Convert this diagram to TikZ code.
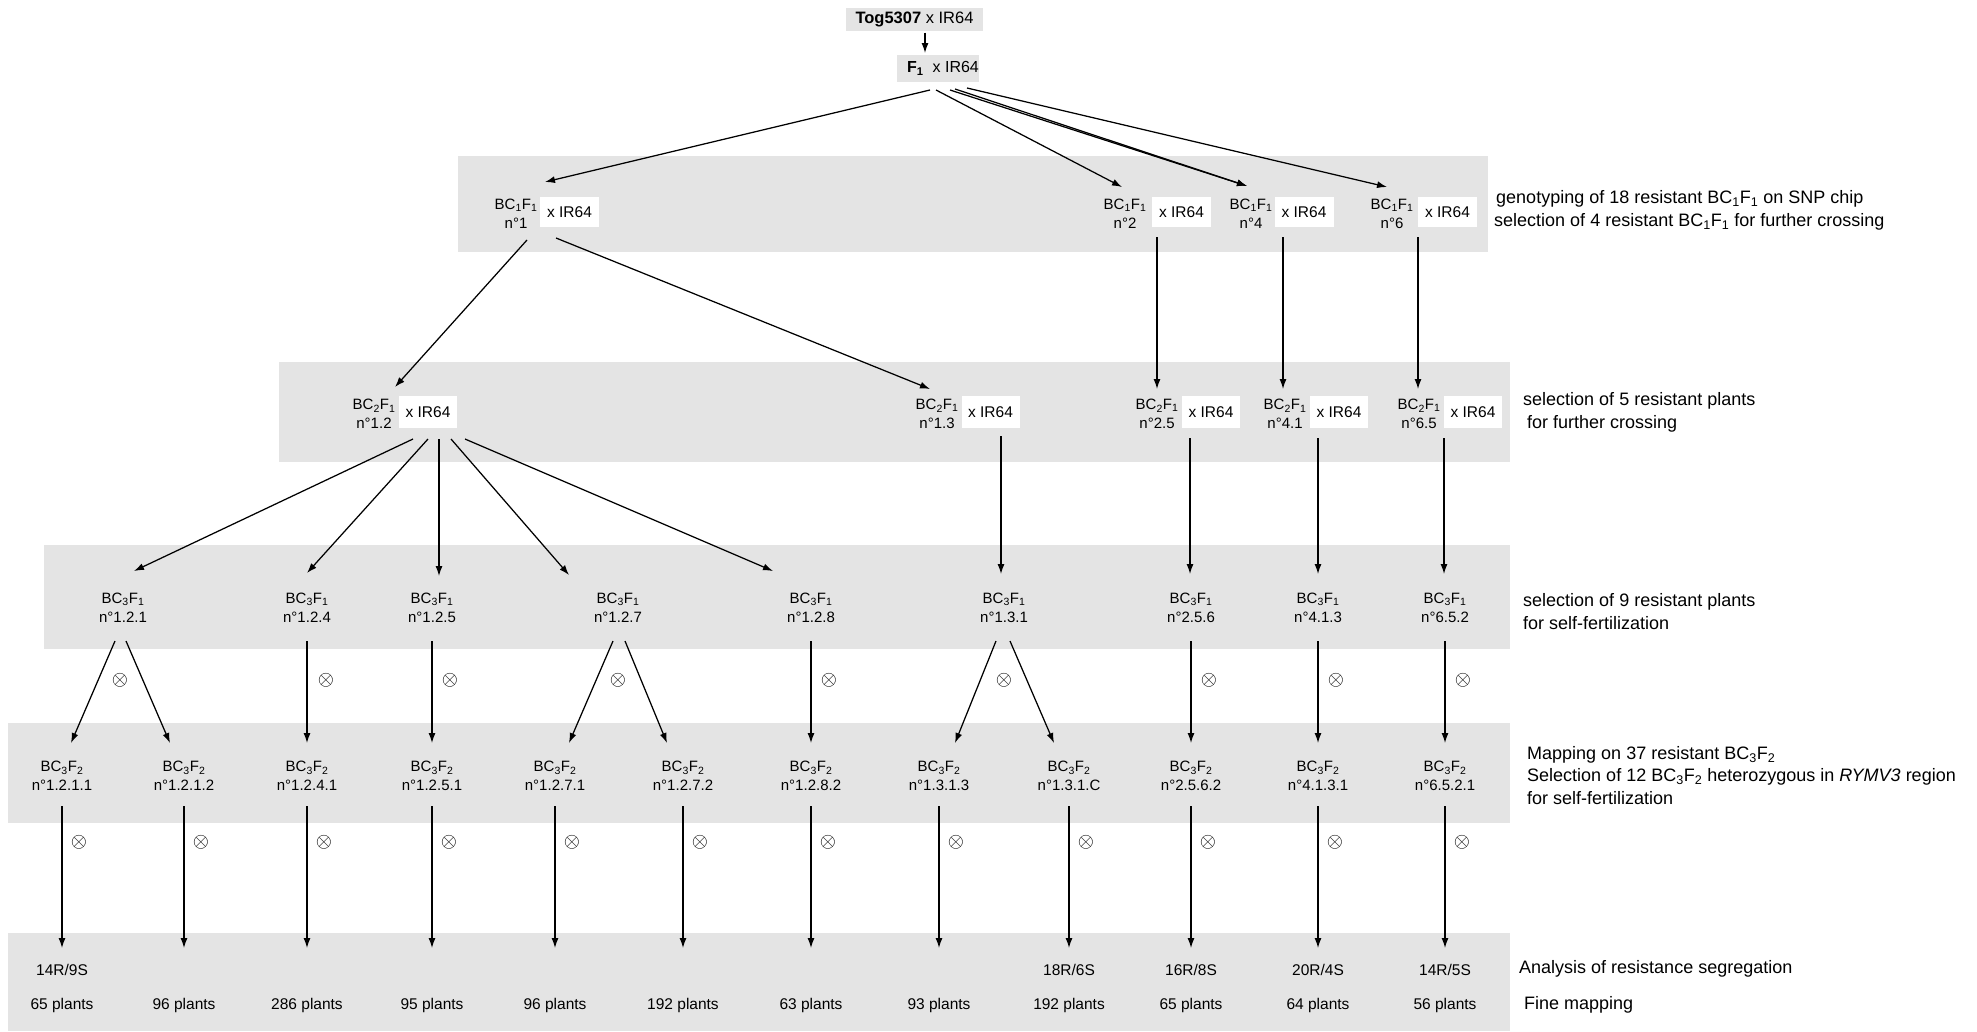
\documentclass[tikz,border=0pt]{standalone}
\usepackage{fontspec}
\setmainfont{Liberation Sans}
\usetikzlibrary{arrows.meta}
\definecolor{bandgray}{RGB}{228,228,228}
\begin{document}
\begin{tikzpicture}[x=1pt,y=-1pt,
  lab/.style={align=center, font=\fontsize{15}{19}\selectfont, inner sep=0pt},
  xbox/.style={fill=white, minimum width=59pt, minimum height=30pt, inner sep=0pt, font=\fontsize{15.5}{17}\selectfont},
  arr/.style={line width=1.25pt, -{Latex[length=10pt,width=7pt]}},
  note/.style={align=left, anchor=west, inner sep=0pt, font=\fontsize{18}{22.5}\selectfont},
  ot/.style={inner sep=0pt, font=\fontsize{21}{21}\selectfont},
  bot/.style={font=\fontsize{15.5}{17}\selectfont, inner sep=0pt}
]
\useasboundingbox (0,0) rectangle (1977,1031);
\fill[white] (0,0) rectangle (1977,1031);
% bands
\fill[bandgray] (458,156) rectangle (1488,252);
\fill[bandgray] (279,362) rectangle (1510,462);
\fill[bandgray] (44,545) rectangle (1510,649);
\fill[bandgray] (8,723) rectangle (1510,823);
\fill[bandgray] (8,933) rectangle (1510,1031);
% top
\node[fill=bandgray, minimum width=137pt, minimum height=23pt, inner sep=0pt, font=\fontsize{16.5}{18}\selectfont] (top) at (914.5,19.5) {\textbf{Tog5307} x IR64};
\node[fill=bandgray, minimum width=80pt, minimum height=27pt, inner sep=0pt, font=\fontsize{16}{18}\selectfont] (f1) at (938,68.5) {\hspace{10pt}\textbf{F\textsubscript{1}}\hspace{9pt}x IR64};
% band 1
\node[lab] (l1) at (516,213.5) {BC\textsubscript{1}F\textsubscript{1}\\n°1};
\node[lab] (l2) at (1125,213.5) {BC\textsubscript{1}F\textsubscript{1}\\n°2};
\node[lab] (l4) at (1251,213.5) {BC\textsubscript{1}F\textsubscript{1}\\n°4};
\node[lab] (l6) at (1392,213.5) {BC\textsubscript{1}F\textsubscript{1}\\n°6};
\node[xbox] (b1) at (569.5,212) {x IR64};
\node[xbox] (b2) at (1181.5,212) {x IR64};
\node[xbox] (b4) at (1304,212) {x IR64};
\node[xbox] (b6) at (1447.5,212) {x IR64};
% band 2
\node[lab] (l12) at (374,414) {BC\textsubscript{2}F\textsubscript{1}\\n°1.2};
\node[lab] (l13) at (937,414) {BC\textsubscript{2}F\textsubscript{1}\\n°1.3};
\node[lab] (l25) at (1157,414) {BC\textsubscript{2}F\textsubscript{1}\\n°2.5};
\node[lab] (l41) at (1285,414) {BC\textsubscript{2}F\textsubscript{1}\\n°4.1};
\node[lab] (l65) at (1419,414) {BC\textsubscript{2}F\textsubscript{1}\\n°6.5};
\node[xbox, minimum width=58pt, minimum height=32pt] (b12) at (428,412) {x IR64};
\node[xbox, minimum width=58pt, minimum height=32pt] (b13) at (990.5,412) {x IR64};
\node[xbox, minimum width=58pt, minimum height=32pt] (b25) at (1211,412) {x IR64};
\node[xbox, minimum width=58pt, minimum height=32pt] (b41) at (1339,412) {x IR64};
\node[xbox, minimum width=58pt, minimum height=32pt] (b65) at (1473,412) {x IR64};
% band 3
\node[lab] (k121) at (123,607.5) {BC\textsubscript{3}F\textsubscript{1}\\n°1.2.1};
\node[lab] (k124) at (307,607.5) {BC\textsubscript{3}F\textsubscript{1}\\n°1.2.4};
\node[lab] (k125) at (432,607.5) {BC\textsubscript{3}F\textsubscript{1}\\n°1.2.5};
\node[lab] (k127) at (618,607.5) {BC\textsubscript{3}F\textsubscript{1}\\n°1.2.7};
\node[lab] (k128) at (811,607.5) {BC\textsubscript{3}F\textsubscript{1}\\n°1.2.8};
\node[lab] (k131) at (1004,607.5) {BC\textsubscript{3}F\textsubscript{1}\\n°1.3.1};
\node[lab] (k256) at (1191,607.5) {BC\textsubscript{3}F\textsubscript{1}\\n°2.5.6};
\node[lab] (k413) at (1318,607.5) {BC\textsubscript{3}F\textsubscript{1}\\n°4.1.3};
\node[lab] (k652) at (1445,607.5) {BC\textsubscript{3}F\textsubscript{1}\\n°6.5.2};
% band 4
\node[lab] (m1) at (62,776) {BC\textsubscript{3}F\textsubscript{2}\\n°1.2.1.1};
\node[lab] (m2) at (184,776) {BC\textsubscript{3}F\textsubscript{2}\\n°1.2.1.2};
\node[lab] (m3) at (307,776) {BC\textsubscript{3}F\textsubscript{2}\\n°1.2.4.1};
\node[lab] (m4) at (432,776) {BC\textsubscript{3}F\textsubscript{2}\\n°1.2.5.1};
\node[lab] (m5) at (555,776) {BC\textsubscript{3}F\textsubscript{2}\\n°1.2.7.1};
\node[lab] (m6) at (683,776) {BC\textsubscript{3}F\textsubscript{2}\\n°1.2.7.2};
\node[lab] (m7) at (811,776) {BC\textsubscript{3}F\textsubscript{2}\\n°1.2.8.2};
\node[lab] (m8) at (939,776) {BC\textsubscript{3}F\textsubscript{2}\\n°1.3.1.3};
\node[lab] (m9) at (1069,776) {BC\textsubscript{3}F\textsubscript{2}\\n°1.3.1.C};
\node[lab] (m10) at (1191,776) {BC\textsubscript{3}F\textsubscript{2}\\n°2.5.6.2};
\node[lab] (m11) at (1318,776) {BC\textsubscript{3}F\textsubscript{2}\\n°4.1.3.1};
\node[lab] (m12) at (1445,776) {BC\textsubscript{3}F\textsubscript{2}\\n°6.5.2.1};
% band 5
\node[bot] (p1) at (62,1005) {65 plants};
\node[bot] (p2) at (184,1005) {96 plants};
\node[bot] (p3) at (307,1005) {286 plants};
\node[bot] (p4) at (432,1005) {95 plants};
\node[bot] (p5) at (555,1005) {96 plants};
\node[bot] (p6) at (683,1005) {192 plants};
\node[bot] (p7) at (811,1005) {63 plants};
\node[bot] (p8) at (939,1005) {93 plants};
\node[bot] (p9) at (1069,1005) {192 plants};
\node[bot] (p10) at (1191,1005) {65 plants};
\node[bot] (p11) at (1318,1005) {64 plants};
\node[bot] (p12) at (1445,1005) {56 plants};
\node[bot] (s1) at (62,970) {14R/9S};
\node[bot] (s9) at (1069,970) {18R/6S};
\node[bot] (s10) at (1191,970) {16R/8S};
\node[bot] (s11) at (1318,970) {20R/4S};
\node[bot] (s12) at (1445,970) {14R/5S};
% arrows top
\draw[arr] ([shift={(10.5,13)}]top.center) -- ([shift={(-13,-15.5)}]f1.center);
\draw[arr] ([shift={(-8,21.5)}]f1.center) -- ([shift={(29,-31.5)}]l1.center);
\draw[arr] ([shift={(-2,21.5)}]f1.center) -- ([shift={(-3,-26.5)}]l2.center);
\draw[arr] ([shift={(12,21.5)}]f1.center) -- ([shift={(-4,-27.5)}]l4.center);
\draw[arr] ([shift={(17,20.5)}]f1.center) -- ([shift={(-4,-27.5)}]l4.center);
\draw[arr] ([shift={(29,19.5)}]f1.center) -- ([shift={(-5,-26.5)}]l6.center);
% band 1 -> 2
\draw[arr] ([shift={(11,26.5)}]l1.center) -- ([shift={(21,-27)}]l12.center);
\draw[arr] ([shift={(-13.5,26)}]b1.center) -- ([shift={(-7,-25)}]l13.center);
\draw[arr] ([shift={(-24.5,25)}]b2.center) -- ([shift={(0,-25)}]l25.center);
\draw[arr] ([shift={(-21,25)}]b4.center) -- ([shift={(-2,-25)}]l41.center);
\draw[arr] ([shift={(-29.5,25)}]b6.center) -- ([shift={(-1,-25)}]l65.center);
% band 2 -> 3
\draw[arr] ([shift={(-15,27)}]b12.center) -- ([shift={(11,-36.5)}]k121.center);
\draw[arr] ([shift={(0,27)}]b12.center) -- ([shift={(0,-34.5)}]k124.center);
\draw[arr] ([shift={(11,27)}]b12.center) -- ([shift={(7,-31.5)}]k125.center);
\draw[arr] ([shift={(23,27)}]b12.center) -- ([shift={(-49,-32.5)}]k127.center);
\draw[arr] ([shift={(37,27)}]b12.center) -- ([shift={(-38,-36.5)}]k128.center);
\draw[arr] ([shift={(10.5,24)}]b13.center) -- ([shift={(-3,-33.5)}]k131.center);
\draw[arr] ([shift={(-21,26)}]b25.center) -- ([shift={(-1,-33.5)}]k256.center);
\draw[arr] ([shift={(-21,26)}]b41.center) -- ([shift={(0,-33.5)}]k413.center);
\draw[arr] ([shift={(-29,26)}]b65.center) -- ([shift={(-1,-33.5)}]k652.center);
% band 3 -> 4
\draw[arr] ([shift={(-8,33.5)}]k121.center) -- ([shift={(9,-33)}]m1.center);
\draw[arr] ([shift={(3,33.5)}]k121.center) -- ([shift={(-14,-33)}]m2.center);
\draw[arr] ([shift={(0,33.5)}]k124.center) -- ([shift={(0,-33)}]m3.center);
\draw[arr] ([shift={(0,33.5)}]k125.center) -- ([shift={(0,-33)}]m4.center);
\draw[arr] ([shift={(-5,33.5)}]k127.center) -- ([shift={(14,-33)}]m5.center);
\draw[arr] ([shift={(7,33.5)}]k127.center) -- ([shift={(-16,-33)}]m6.center);
\draw[arr] ([shift={(0,33.5)}]k128.center) -- ([shift={(0,-33)}]m7.center);
\draw[arr] ([shift={(-8,33.5)}]k131.center) -- ([shift={(16,-33)}]m8.center);
\draw[arr] ([shift={(6,33.5)}]k131.center) -- ([shift={(-15,-33)}]m9.center);
\draw[arr] ([shift={(0,33.5)}]k256.center) -- ([shift={(0,-33)}]m10.center);
\draw[arr] ([shift={(0,33.5)}]k413.center) -- ([shift={(0,-33)}]m11.center);
\draw[arr] ([shift={(0,33.5)}]k652.center) -- ([shift={(0,-33)}]m12.center);
% band 4 -> 5
\foreach \i in {1,...,12} {
  \draw[arr] ([shift={(0,30)}]m\i.center) -- ([shift={(0,-57)}]p\i.center);
}
% selfing symbols
\node[ot] (o121) at (120,680) {$\otimes$};
\node[ot] (o124) at (326,680) {$\otimes$};
\node[ot] (o125) at (450,680) {$\otimes$};
\node[ot] (o127) at (618,680) {$\otimes$};
\node[ot] (o128) at (829,680) {$\otimes$};
\node[ot] (o131) at (1004,680) {$\otimes$};
\node[ot] (o256) at (1209,680) {$\otimes$};
\node[ot] (o413) at (1336,680) {$\otimes$};
\node[ot] (o652) at (1463,680) {$\otimes$};
\foreach \x [count=\j] in {62,184,307,432,555,683,811,939,1069,1191,1318,1445} {
  \node[ot] (q\j) at (\x+17,842) {$\otimes$};
}
% notes
\node[note] (r1) at (1494,210.5) {\hspace{2pt}genotyping of 18 resistant BC\textsubscript{1}F\textsubscript{1} on SNP chip\\selection of 4 resistant BC\textsubscript{1}F\textsubscript{1} for further crossing};
\node[note] (r2) at (1523,412.5) {selection of 5 resistant plants\\\hspace{4pt}for further crossing};
\node[note] (r3) at (1523,611.5) {selection of 9 resistant plants\\for self-fertilization};
\node[note] (r4) at (1527,775.5) {Mapping on 37 resistant BC\textsubscript{3}F\textsubscript{2}\\Selection of 12 BC\textsubscript{3}F\textsubscript{2} heterozygous in \textit{RYMV3} region\\for self-fertilization};
\node[note] (r5) at (1519,969) {Analysis of resistance segregation};
\node[note] (r6) at (1524,1005) {Fine mapping};
\end{tikzpicture}
\end{document}
